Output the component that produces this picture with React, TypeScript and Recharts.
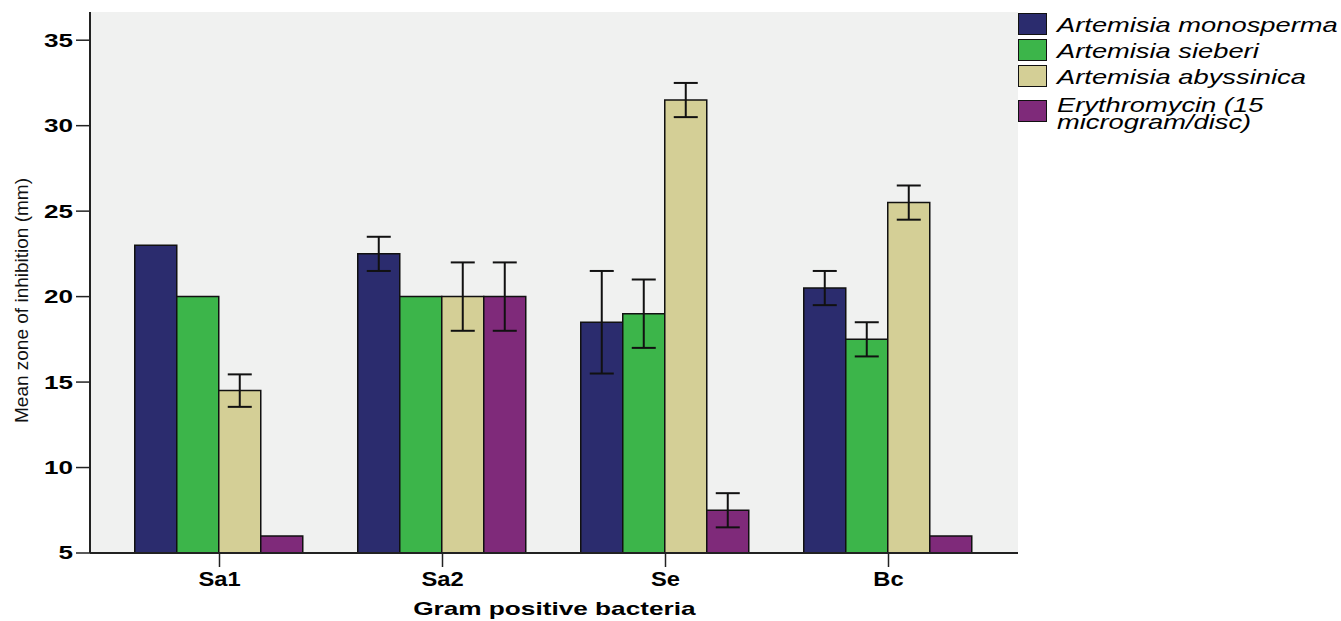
import React from 'react';
import { BarChart, Bar, XAxis, YAxis, ErrorBar, CartesianGrid } from 'recharts';

// categories on the x axis
const bacteria = ['Sa1', 'Sa2', 'Se', 'Bc'];

// mean zone of inhibition (mm) and error (half-width of the bar)
const monosperma = [23, 22.5, 18.5, 20.5];
const monospermaErr = [0, 1, 3, 1];
const sieberi = [20, 20, 19, 17.5];
const sieberiErr = [0, 0, 2, 1];
const abyssinica = [14.5, 20, 31.5, 25.5];
const abyssinicaErr = [0.95, 2, 1, 1];
const erythromycin = [6, 20, 7.5, 6];
const erythromycinErr = [0, 2, 1, 0];

const yTicks = [5, 10, 15, 20, 25, 30, 35];

const data = bacteria.map((name, i) => ({
  name,
  mono: monosperma[i],
  monoErr: monospermaErr[i],
  sieb: sieberi[i],
  siebErr: sieberiErr[i],
  abys: abyssinica[i],
  abysErr: abyssinicaErr[i],
  ery: erythromycin[i],
  eryErr: erythromycinErr[i],
}));

const series = [
  { key: 'mono', err: 'monoErr', color: '#2B2C6E', label: ['Artemisia monosperma'] },
  { key: 'sieb', err: 'siebErr', color: '#3CB54A', label: ['Artemisia sieberi'] },
  { key: 'abys', err: 'abysErr', color: '#D4CF96', label: ['Artemisia abyssinica'] },
  { key: 'ery', err: 'eryErr', color: '#7F2A7A', label: ['Erythromycin (15', 'microgram/disc)'] },
];

const font = 'Arial, "Liberation Sans", sans-serif';

// the original image is stretched sideways, so the texts are widened a bit
const YTick = ({ x, y, payload }: any) => (
  <text
    transform={`translate(${x},${y}) scale(1.45,1)`}
    textAnchor="end"
    dy="0.36em"
    fill="#000"
    fontSize={18}
    fontWeight="bold"
    fontFamily={font}
  >
    {payload.value}
  </text>
);

const XTick = ({ x, y, payload }: any) => (
  <text
    transform={`translate(${x},${y}) scale(1.13,1)`}
    textAnchor="middle"
    dy="0.75em"
    fill="#000"
    fontSize={21}
    fontWeight="bold"
    fontFamily={font}
  >
    {payload.value}
  </text>
);

const YLabel = ({ viewBox }: any) => (
  <text
    transform={`translate(28, ${viewBox.y + viewBox.height / 2 + 18}) rotate(-90)`}
    textAnchor="middle"
    fill="#111"
    fontSize={19}
    fontFamily={font}
  >
    Mean zone of inhibition (mm)
  </text>
);

const LegendBox = () => (
  <div
    style={{
      position: 'absolute',
      left: 1018,
      top: 13,
      fontFamily: font,
      fontStyle: 'italic',
      fontSize: 21,
      color: '#000',
    }}
  >
    {series.map((s, i) => {
      const two = s.label.length > 1;
      return (
        <div key={s.key} style={{ display: 'flex', alignItems: 'flex-start', height: two ? 36 : 26, marginTop: i === 3 ? 7 : 0 }}>
          <div
            style={{
              width: 29,
              height: 22,
              background: s.color,
              border: '1.5px solid #111',
              boxSizing: 'border-box',
              marginRight: 10,
              marginTop: two ? 2 : 0,
              flexShrink: 0,
            }}
          />
          <div style={{ lineHeight: two ? '17px' : '24px', marginTop: two ? -2 : 0, whiteSpace: 'nowrap' }}>
            {s.label.map(l => (
              <div key={l} style={{ transform: 'scaleX(1.3)', transformOrigin: 'left' }}>
                {l}
              </div>
            ))}
          </div>
        </div>
      );
    })}
  </div>
);

export default function App() {
  return (
    <div style={{ position: 'absolute', left: 0, top: 0, width: 1341, height: 621, background: '#fff' }}>
      <BarChart
        width={1341}
        height={621}
        data={data}
        margin={{ top: 12, right: 323, left: 0, bottom: 0 }}
        barCategoryGap="12%"
        barGap={0}
      >
        <CartesianGrid horizontal={false} vertical={false} fill="#F0F1F0" />
        <XAxis
          dataKey="name"
          height={68}
          padding={{ left: 18, right: 18 }}
          axisLine={{ stroke: '#222', strokeWidth: 2 }}
          tickLine={{ stroke: '#222', strokeWidth: 1.5 }}
          tickSize={14}
          tick={<XTick />}
          tickMargin={3}
          label={{
            value: 'Gram positive bacteria',
            position: 'insideBottom',
            offset: 6,
            fill: '#000',
            fontSize: 19,
            fontWeight: 'bold',
            fontFamily: font,
            style: { transform: 'scaleX(1.38)', transformOrigin: '553px 0', transformBox: 'view-box' },
          }}
        />
        <XAxis
          xAxisId="top"
          dataKey="name"
          orientation="top"
          height={0}
          tick={false}
          tickLine={false}
          axisLine={{ stroke: '#333', strokeWidth: 1.5 }}
        />
        <YAxis
          width={90}
          domain={[5, 36.65]}
          ticks={yTicks}
          allowDataOverflow
          axisLine={{ stroke: '#222', strokeWidth: 2 }}
          tickLine={{ stroke: '#222', strokeWidth: 1.5 }}
          tickSize={14}
          tick={<YTick />}
          tickMargin={3}
          label={YLabel}
        />
        <YAxis
          yAxisId="right"
          orientation="right"
          width={0}
          domain={[5, 36.65]}
          tick={false}
          tickLine={false}
          axisLine={{ stroke: '#333', strokeWidth: 1.5 }}
        />
        {series.map(s => (
          <Bar
            key={s.key}
            dataKey={s.key}
            fill={s.color}
            stroke="#111"
            strokeWidth={1.5}
            isAnimationActive={false}
          >
            <ErrorBar dataKey={s.err} width={12} stroke="#111" strokeWidth={2} direction="y" />
          </Bar>
        ))}
      </BarChart>
      <LegendBox />
    </div>
  );
}
